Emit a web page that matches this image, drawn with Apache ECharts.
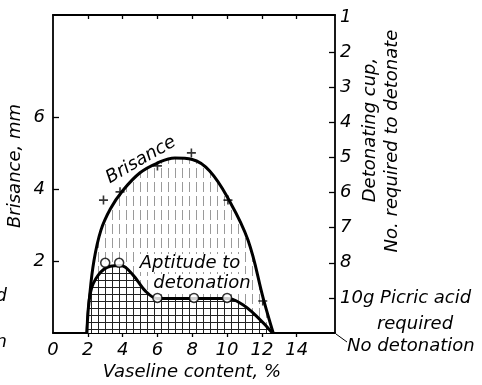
<!DOCTYPE html>
<html>
<head>
<meta charset="utf-8">
<script src="https://cdn.jsdelivr.net/npm/echarts@6/dist/echarts.min.js"></script>
<style>
html,body{margin:0;padding:0;background:#fff;}
#c{width:482px;height:385px;}
</style>
</head>
<body>
<div id="c"></div>
<script>
// ---- data ----
var brisanceCurveX = [1.95, 2.1, 2.35, 2.75, 3.3, 4.0, 5.0, 6.0, 7.0, 8.0, 9.0, 10.1, 11.2, 12.1, 12.65];
var brisanceCurveY = [0, 1.0, 2.0, 2.85, 3.45, 3.95, 4.45, 4.72, 4.86, 4.82, 4.5, 3.7, 2.58, 0.92, 0];
var brisancePointsX = [2.9, 3.85, 6.0, 7.95, 10.05, 12.05];
var brisancePointsY = [3.69, 3.92, 4.64, 5.0, 3.69, 0.89];
// aptitude on right scale: 0 = no detonation, 1 = 10 g picric acid, 2 = cup 8, ... 9 = cup 1
var aptitudeCurveX = [1.95, 2.15, 2.6, 3.3, 3.9, 4.6, 5.3, 6.0, 8.0, 10.0, 12.6];
var aptitudeCurveY = [0, 1.15, 1.65, 1.9, 1.92, 1.65, 1.2, 0.98, 0.98, 0.98, 0];
var aptitudePointsX = [3.0, 3.8, 6.0, 8.1, 10.0];
var aptitudePointsY = [2, 2, 1, 1, 1];
var xTickLabels = [0, 2, 4, 6, 8, 10, 12, 14];
var leftTickLabels = [2, 4, 6];
var rightTickLabels = ['', '10g Picric acid', '8', '7', '6', '5', '4', '3', '2', '1'];

function zip(a, b) { return a.map(function (v, i) { return [v, b[i]]; }); }

// ---- patterns ----
function makeVertPattern() {
  var c = document.createElement('canvas');
  c.width = 7; c.height = 14;
  var g = c.getContext('2d');
  g.fillStyle = '#9a9a9a';
  g.fillRect(0, 0, 1, 10);
  return c;
}
function makeGridPattern() {
  var c = document.createElement('canvas');
  c.width = 7; c.height = 7;
  var g = c.getContext('2d');
  g.fillStyle = '#ffffff';
  g.fillRect(0, 0, 7, 7);
  g.fillStyle = '#222';
  g.fillRect(0, 0, 1, 7);
  g.fillRect(0, 0, 7, 1);
  return c;
}

var FONT = "'DejaVu Sans', sans-serif";
var chart = echarts.init(document.getElementById('c'));
var axisLine = { show: true, onZero: false, lineStyle: { color: '#000', width: 1.8 } };
var plus = 'path://M4.1,0H5.9V4.1H10V5.9H5.9V10H4.1V5.9H0V4.1H4.1Z';
var txt = function (s, extra) {
  var o = { text: s, fontFamily: FONT, fontStyle: 'italic', fontSize: 18, fill: '#000', align: 'center', verticalAlign: 'middle' };
  for (var k in extra) o[k] = extra[k];
  return o;
};

chart.setOption({
  animation: false,
  grid: { left: 53, right: 147, top: 15, bottom: 52 },
  xAxis: [{
    type: 'value', min: 0, max: 16.2, position: 'bottom',
    axisLine: axisLine, splitLine: { show: false },
    axisTick: { show: true, inside: false, length: 4, customValues: [2, 4, 6, 8, 10, 12, 14], lineStyle: { color: '#000', width: 1.3 } },
    axisLabel: { customValues: xTickLabels, margin: 8, color: '#000', fontFamily: FONT, fontStyle: 'italic', fontSize: 18 }
  }, {
    type: 'value', min: 0, max: 16.2, position: 'top',
    axisLine: axisLine, splitLine: { show: false },
    axisTick: { show: true, inside: true, length: 4, customValues: [2, 4, 6, 8, 10, 12, 14], lineStyle: { color: '#000', width: 1.3 } },
    axisLabel: { show: false }
  }],
  yAxis: [{
    type: 'value', min: 0, max: 8.83, position: 'left',
    axisLine: axisLine, splitLine: { show: false },
    axisTick: { show: true, inside: true, length: 6, customValues: leftTickLabels, lineStyle: { color: '#000', width: 1.3 } },
    axisLabel: { customValues: leftTickLabels, margin: 8, color: '#000', fontFamily: FONT, fontStyle: 'italic', fontSize: 18 }
  }, {
    type: 'value', min: 0, max: 9.06, position: 'right',
    axisLine: axisLine, splitLine: { show: false },
    axisTick: { show: true, inside: true, length: 6, customValues: [1, 2, 3, 4, 5, 6, 7, 8], lineStyle: { color: '#000', width: 1.3 } },
    axisLabel: {
      customValues: [1, 2, 3, 4, 5, 6, 7, 8, 9], margin: 5, color: '#000', fontFamily: FONT, fontStyle: 'italic', fontSize: 18,
      formatter: function (v) { return rightTickLabels[Math.round(v)]; }
    }
  }],
  series: [{
    type: 'line', xAxisIndex: 0, yAxisIndex: 0, data: zip(brisanceCurveX, brisanceCurveY),
    smooth: 0.4, showSymbol: false, z: 2,
    lineStyle: { color: '#000', width: 3 },
    areaStyle: { color: { image: makeVertPattern(), repeat: 'repeat' }, opacity: 1 }
  }, {
    type: 'line', xAxisIndex: 0, yAxisIndex: 1, data: zip(aptitudeCurveX, aptitudeCurveY),
    smooth: 0.35, showSymbol: false, z: 3,
    lineStyle: { color: '#000', width: 3 },
    areaStyle: { color: { image: makeGridPattern(), repeat: 'repeat' }, opacity: 1 }
  }, {
    type: 'scatter', xAxisIndex: 0, yAxisIndex: 0, data: zip(brisancePointsX, brisancePointsY),
    symbol: plus, symbolSize: 9, z: 5, itemStyle: { color: '#000' }
  }, {
    type: 'scatter', xAxisIndex: 0, yAxisIndex: 1, data: zip(aptitudePointsX, aptitudePointsY),
    symbol: 'circle', symbolSize: 9, z: 6, itemStyle: { color: '#fff', borderColor: '#000', borderWidth: 1.5 }
  }],
  graphic: [
    { type: 'text', x: 15, y: 166, rotation: Math.PI / 2, style: txt('Brisance, mm') },
    { type: 'text', x: 192, y: 372, style: txt('Vaseline content, %') },
    { type: 'text', x: 370, y: 130, rotation: Math.PI / 2, style: txt('Detonating cup,') },
    { type: 'text', x: 392, y: 141, rotation: Math.PI / 2, style: txt('No. required to detonate') },
    { type: 'text', x: 415, y: 324, style: txt('required') },
    { type: 'text', x: 347, y: 346, style: txt('No detonation', { align: 'left' }) },
    { type: 'line', shape: { x1: 336, y1: 334, x2: 347, y2: 342 }, style: { stroke: '#000', lineWidth: 1 } },
    { type: 'text', x: 141, y: 160, rotation: 30 * Math.PI / 180, style: txt('Brisance') },
    { type: 'text', x: 190, y: 263, z: 10, style: txt('Aptitude to', { backgroundColor: '#fff' }) },
    { type: 'text', x: 202, y: 283, z: 10, style: txt('detonation', { backgroundColor: '#fff' }) },
    { type: 'text', x: 7, y: 296, style: txt('d', { align: 'right' }) },
    { type: 'text', x: 7, y: 342, style: txt('n', { align: 'right' }) }
  ]
});
</script>
</body>
</html>
